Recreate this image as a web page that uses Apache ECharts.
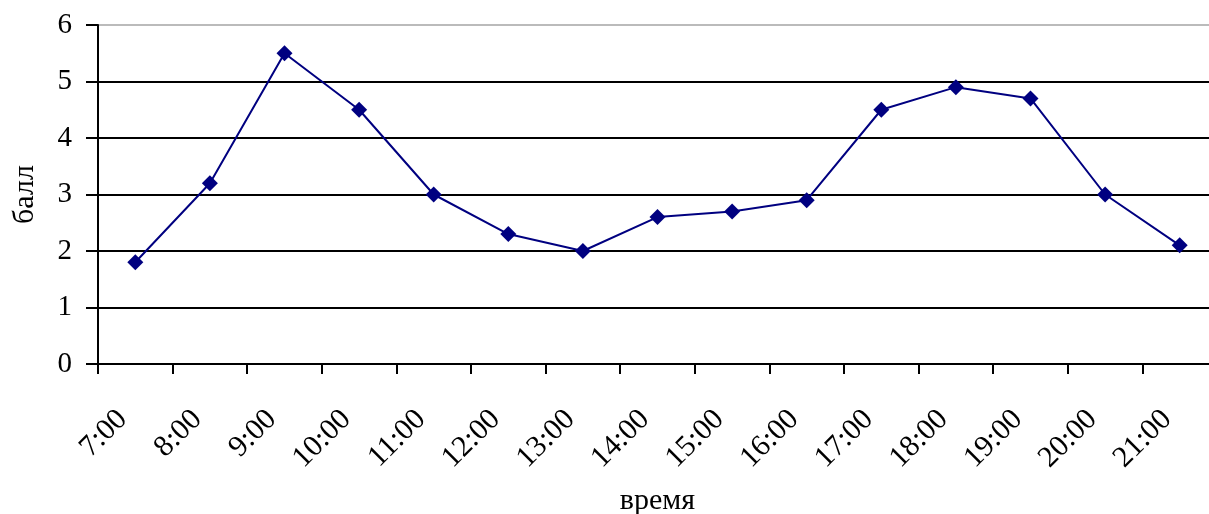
<!DOCTYPE html>
<html>
<head>
<meta charset="utf-8">
<script src="https://cdn.jsdelivr.net/npm/echarts@6/dist/echarts.min.js"></script>
<style>
html,body{margin:0;padding:0;background:#fff;}
#chart{width:1209px;height:514px;}
</style>
</head>
<body>
<div id="chart"></div>
<script>
const categories = ['7:00','8:00','9:00','10:00','11:00','12:00','13:00','14:00','15:00','16:00','17:00','18:00','19:00','20:00','21:00'];
const values = [1.8, 3.2, 5.5, 4.5, 3.0, 2.3, 2.0, 2.6, 2.7, 2.9, 4.5, 4.9, 4.7, 3.0, 2.1];
const yTicks = [0, 1, 2, 3, 4, 5, 6];
const xTitle = 'время';
const yTitle = 'балл';

const font = 'Liberation Serif';
const chart = echarts.init(document.getElementById('chart'), null, {renderer: 'canvas'});
chart.setOption({
  animation: false,
  backgroundColor: '#fff',
  textStyle: {fontFamily: font},
  grid: {left: 98, top: 25, right: -8, bottom: 150, containLabel: false, outerBoundsMode: 'none'},
  xAxis: {
    type: 'category',
    data: categories,
    boundaryGap: true,
    name: xTitle,
    nameLocation: 'middle',
    nameGap: 122,
    nameTextStyle: {fontFamily: font, fontSize: 30, color: '#000'},
    axisLine: {show: true, onZero: false, lineStyle: {color: '#000', width: 2}},
    axisTick: {show: true, length: 10, alignWithLabel: false, lineStyle: {color: '#000', width: 2}},
    axisLabel: {rotate: 45, margin: 38, padding: [0, 18, 0, 0], fontFamily: font, fontSize: 30, color: '#000', interval: 0},
    splitLine: {show: false}
  },
  yAxis: {
    type: 'value',
    min: yTicks[0],
    max: yTicks[yTicks.length - 1],
    interval: 1,
    name: yTitle,
    nameLocation: 'middle',
    nameGap: 58,
    nameRotate: 90,
    nameTextStyle: {fontFamily: font, fontSize: 30, color: '#000'},
    axisLine: {show: true, lineStyle: {color: '#000', width: 2}},
    axisTick: {show: true, length: 12, lineStyle: {color: '#000', width: 2}},
    axisLabel: {margin: 26, fontFamily: font, fontSize: 29, color: '#000'},
    splitLine: {show: true, lineStyle: {color: ['#000','#000','#000','#000','#000','#000','#bbbbbb'], width: 2}}
  },
  series: [{
    type: 'line',
    data: values,
    symbol: 'diamond',
    symbolSize: 16,
    lineStyle: {color: '#000080', width: 2},
    itemStyle: {color: '#000080'},
    z: 5
  }]
});
</script>
</body>
</html>
